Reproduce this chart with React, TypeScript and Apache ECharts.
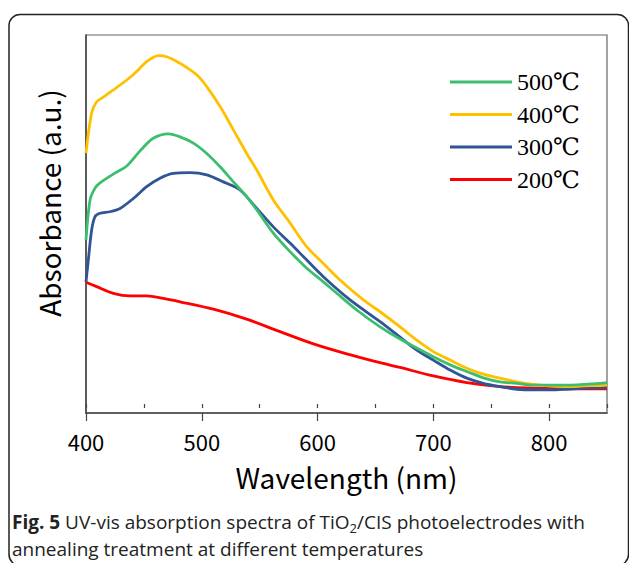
import React, { useEffect, useRef } from "react";
import * as echarts from "echarts";

// Wavelength (nm) / absorbance (a.u.)
const wl500 = [400, 403.5, 407.8, 412.1, 423.6, 435.2, 446.7, 458.1, 471.1, 481.2, 492.7, 504.3, 515.8, 527.3, 538.8, 547.5, 561.8, 576.2, 590.7, 605.0, 616.6, 635.0, 654.0, 671.3, 700.0, 714.5, 728.9, 743.2, 757.7, 772.1, 786.4, 815.3, 844.1, 850];
const abs500 = [0.444, 0.553, 0.585, 0.599, 0.623, 0.645, 0.686, 0.720, 0.732, 0.724, 0.707, 0.679, 0.643, 0.602, 0.562, 0.526, 0.463, 0.413, 0.368, 0.331, 0.300, 0.252, 0.209, 0.176, 0.128, 0.106, 0.088, 0.071, 0.060, 0.056, 0.051, 0.051, 0.056, 0.058];

const wl400 = [400, 404.9, 409.2, 413.6, 423.6, 435.2, 443.8, 452.4, 462.5, 469.7, 478.4, 487.0, 495.7, 504.3, 515.8, 527.3, 538.8, 547.5, 561.8, 576.2, 590.7, 605.0, 619.4, 639.6, 654.0, 671.3, 685.7, 700.0, 714.5, 728.9, 743.2, 757.7, 772.1, 786.4, 800.9, 815.3, 829.6, 844.1, 850];
const abs400 = [0.680, 0.789, 0.819, 0.829, 0.851, 0.878, 0.901, 0.928, 0.944, 0.941, 0.928, 0.912, 0.892, 0.860, 0.806, 0.743, 0.679, 0.634, 0.553, 0.491, 0.426, 0.381, 0.336, 0.282, 0.250, 0.209, 0.173, 0.142, 0.119, 0.097, 0.081, 0.070, 0.060, 0.053, 0.049, 0.047, 0.049, 0.050, 0.051];

const wl300 = [400, 402.0, 404.9, 407.8, 412.1, 420.7, 429.4, 440.9, 452.4, 463.9, 475.4, 489.8, 504.3, 518.6, 533.0, 547.5, 561.8, 576.2, 590.7, 605.0, 628.1, 654.0, 671.3, 685.7, 700.0, 714.5, 728.9, 743.2, 757.7, 772.1, 786.4, 800.9, 815.3, 829.6, 844.1, 850];
const abs300 = [0.331, 0.390, 0.472, 0.508, 0.517, 0.521, 0.530, 0.557, 0.589, 0.612, 0.625, 0.627, 0.621, 0.602, 0.580, 0.530, 0.480, 0.436, 0.390, 0.345, 0.282, 0.223, 0.181, 0.146, 0.119, 0.092, 0.070, 0.056, 0.047, 0.040, 0.038, 0.038, 0.040, 0.043, 0.044, 0.045];

const wl200 = [400, 409.2, 423.6, 438.0, 452.4, 466.8, 481.2, 510.0, 538.8, 567.6, 596.4, 625.2, 654.0, 671.3, 700.0, 728.9, 757.7, 786.4, 815.3, 844.1, 850];
const abs200 = [0.330, 0.318, 0.300, 0.293, 0.293, 0.286, 0.277, 0.257, 0.230, 0.196, 0.163, 0.136, 0.112, 0.099, 0.076, 0.058, 0.047, 0.043, 0.041, 0.041, 0.041];

const seriesNames = ["200℃", "300℃", "400℃", "500℃"];
const legendOrder = ["500℃", "400℃", "300℃", "200℃"];
const seriesColors = ["#FF0000", "#2F5597", "#FFC000", "#3DBE6E"];
const xTicks = [400, 500, 600, 700, 800];

// Caption pieces
const capBold = "Fig. 5";
const capA = "UV-vis absorption spectra of TiO";
const capSub = "2";
const capB = "/CIS photoelectrodes with";
const capLine2 = "annealing treatment at different temperatures";

const cjk = '"Noto Sans CJK JP", "Noto Sans", sans-serif';
const serif = '"Liberation Serif", "DejaVu Serif", serif';
const capFont = '"Open Sans", Lato, sans-serif';

const pairs = (xs: number[], ys: number[]) => xs.map((x, i) => [x, ys[i]]);

function measure(text: string, font: string): number {
  const c = document.createElement("canvas").getContext("2d");
  if (!c) return text.length * 9;
  c.font = font;
  return c.measureText(text).width;
}

export default function App() {
  const ref = useRef<HTMLDivElement>(null);
  useEffect(() => {
    if (!ref.current) return;
    const chart = echarts.init(ref.current, undefined, { renderer: "svg" });
    const dataSets = [pairs(wl200, abs200), pairs(wl300, abs300), pairs(wl400, abs400), pairs(wl500, abs500)];

    const capSize = 19;
    const subSize = 13;
    const x0 = 12;
    const y1 = 522;
    const y2 = 549;
    const wBold = measure(capBold, `bold ${capSize}px ${capFont}`);
    const wSpace = measure(" ", `${capSize}px ${capFont}`);
    const xA = x0 + wBold + wSpace;
    const xSub = xA + measure(capA, `${capSize}px ${capFont}`);
    const xB = xSub + measure(capSub, `${subSize}px ${capFont}`);
    const capStyle = (text: string, size: number, bold = false) => ({
      text,
      fontFamily: capFont,
      fontSize: size,
      fontWeight: bold ? "bold" : "normal",
      fill: "#222",
      verticalAlign: "middle",
      textVerticalAlign: "middle",
    });

    chart.setOption({
      animation: false,
      backgroundColor: "#fff",
      grid: { left: 86, right: 22, top: 35, bottom: 150, show: true, borderColor: "#666", borderWidth: 1.2 },
      legend: {
        data: legendOrder,
        orient: "vertical",
        left: 445,
        top: 65,
        icon: "rect",
        itemWidth: 62,
        itemHeight: 3,
        itemGap: 8.5,
        textStyle: { fontFamily: serif, fontSize: 24, color: "#000", lineHeight: 24 },
      },
      xAxis: [
        {
          type: "value",
          min: 400,
          max: 850,
          interval: 100,
          axisLine: { show: true, onZero: false, lineStyle: { color: "#444", width: 1.5 } },
          axisTick: { show: true, length: 8, lineStyle: { color: "#444", width: 1.2 } },
          axisLabel: {
            fontFamily: cjk,
            fontSize: 22,
            color: "#000",
            margin: 17,
            showMaxLabel: false,
            formatter: (v: number) => (xTicks.indexOf(v) >= 0 ? String(v) : ""),
          },
          splitLine: { show: false },
          name: "Wavelength (nm)",
          nameLocation: "middle",
          nameGap: 50,
          nameTextStyle: { fontFamily: cjk, fontSize: 28, color: "#000" },
        },
        {
          type: "value",
          min: 400,
          max: 850,
          interval: 50,
          position: "bottom",
          axisLine: { show: false },
          axisTick: { show: true, length: 4, lineStyle: { color: "#444", width: 1.2 } },
          axisLabel: { show: false },
          splitLine: { show: false },
        },
      ],
      yAxis: {
        type: "value",
        min: -0.0244,
        max: 1,
        axisLine: { show: true, onZero: false, lineStyle: { color: "#444", width: 1.5 } },
        axisTick: { show: false },
        axisLabel: { show: false },
        splitLine: { show: false },
      },
      series: seriesNames.map((name, i) => ({
        name,
        type: "line",
        xAxisIndex: 0,
        data: dataSets[i],
        symbol: "none",
        showSymbol: false,
        smooth: 0.3,
        color: seriesColors[i],
        lineStyle: { color: seriesColors[i], width: 2.8 },
      })),
      graphic: [
        {
          type: "rect",
          silent: true,
          shape: { x: 9, y: 14.5, width: 619.5, height: 551, r: 11 },
          style: { fill: "none", stroke: "#222", lineWidth: 1.5 },
        },
        {
          type: "text",
          x: 49,
          y: 203,
          rotation: Math.PI / 2,
          style: {
            text: "Absorbance (a.u.)",
            fontFamily: cjk,
            fontSize: 28,
            fill: "#000",
            align: "center",
            verticalAlign: "middle",
            textAlign: "center",
            textVerticalAlign: "middle",
          },
        },
        { type: "text", x: x0, y: y1, style: capStyle(capBold, capSize, true) },
        { type: "text", x: xA, y: y1, style: capStyle(capA, capSize) },
        { type: "text", x: xSub, y: y1 + 6, style: capStyle(capSub, subSize) },
        { type: "text", x: xB, y: y1, style: capStyle(capB, capSize) },
        { type: "text", x: x0, y: y2, style: capStyle(capLine2, capSize) },
      ],
    });
    return () => chart.dispose();
  }, []);
  return <div ref={ref} style={{ position: "absolute", left: 0, top: 0, width: 629, height: 563 }} />;
}
